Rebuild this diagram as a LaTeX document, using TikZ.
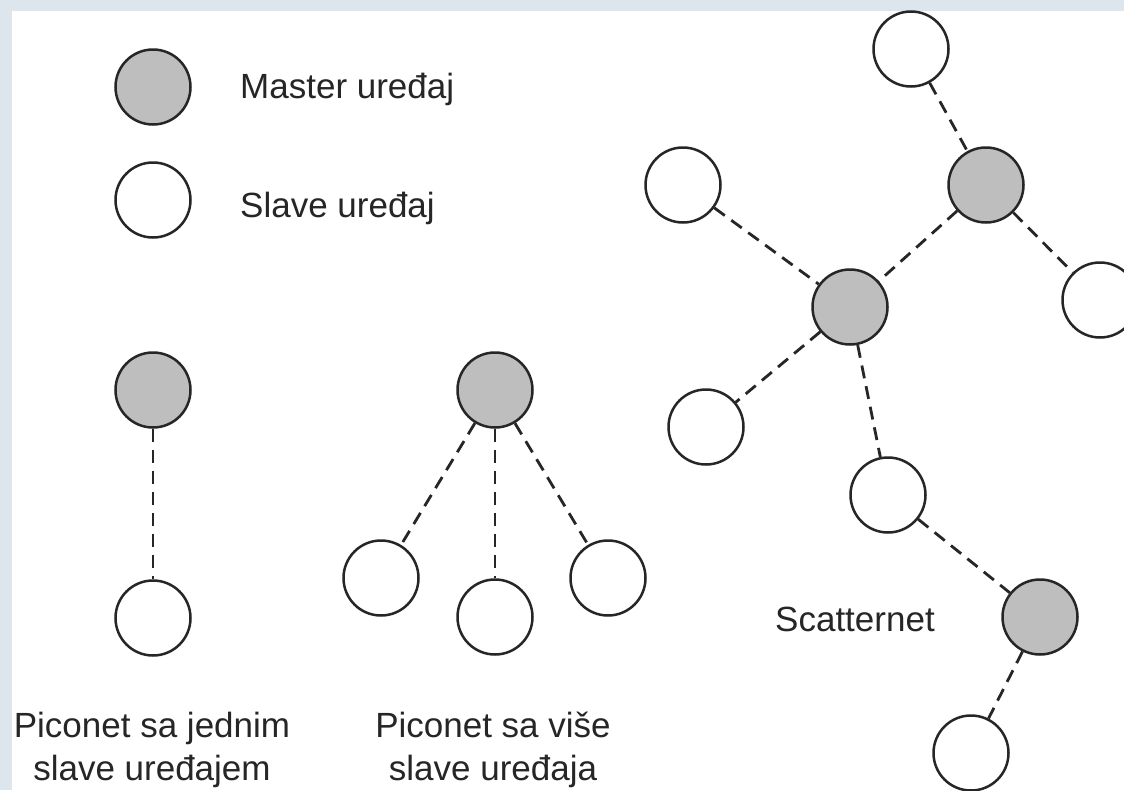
\documentclass[tikz,border=0pt]{standalone}
\usepackage{fontspec}
\setmainfont{Liberation Sans}
\definecolor{frame}{HTML}{DCE6EC}
\definecolor{masterfill}{HTML}{BEBEBE}
\definecolor{ink}{HTML}{262626}
\begin{document}
\begin{tikzpicture}[x=1pt,y=-1pt,
  dev/.style={circle,draw=ink,line width=2.5pt,minimum size=75pt,inner sep=0pt},
  master/.style={dev,fill=masterfill},
  slave/.style={dev,fill=white},
  link/.style={draw=ink,line width=2.8pt,dash pattern=on 13pt off 8pt},
  lbl/.style={text=ink,font=\fontsize{35}{43}\selectfont,inner sep=0pt}]
\useasboundingbox (0,0) rectangle (1124,790);
% frame and white sheet
\fill[frame] (0,0) rectangle (1124,790);
\fill[white] (12,11) rectangle (1124,790);

% legend
\node[master] (legm) at (153,87) {};
\node[slave]  (legs) at (153,200) {};
\node[lbl,anchor=base west] (legmt) at (240,98) {Master uređaj};
\node[lbl,anchor=base west] (legst) at (240,217) {Slave uređaj};

% piconet with one slave
\node[master] (pm1) at (153,390) {};
\node[slave]  (ps1) at (153,618) {};
\draw[link] (pm1) -- (ps1);
\node[lbl,anchor=base] (p1a) at (152,737) {Piconet sa jednim};
\node[lbl,anchor=base] (p1b) at (152,780) {slave uređajem};

% piconet with several slaves
\node[master] (pm2) at (495,390) {};
\node[slave]  (ps2a) at (381,578) {};
\node[slave]  (ps2b) at (495,617) {};
\node[slave]  (ps2c) at (608,578) {};
\draw[link] (pm2) -- (ps2a);
\draw[link] (pm2) -- (ps2b);
\draw[link] (pm2) -- (ps2c);
\node[lbl,anchor=base] (p2a) at (493,737) {Piconet sa više};
\node[lbl,anchor=base] (p2b) at (493,780) {slave uređaja};

% scatternet
\node[slave]  (st)  at (911,49) {};
\node[master] (sm1) at (986,185) {};
\node[slave]  (sr)  at (1100,300) {};
\node[slave]  (sl)  at (683,185) {};
\node[master] (sm2) at (850,307) {};
\node[slave]  (sll) at (706,427) {};
\node[slave]  (s5)  at (888,495) {};
\node[master] (sm3) at (1040,617) {};
\node[slave]  (sb)  at (971,753) {};
\draw[link] (st) -- (sm1);
\draw[link] (sm1) -- (sr);
\draw[link] (sm1) -- (sm2);
\draw[link] (sl) -- (sm2);
\draw[link] (sm2) -- (sll);
\draw[link] (sm2) -- (s5);
\draw[link] (s5) -- (sm3);
\draw[link] (sm3) -- (sb);
\node[lbl,anchor=base west] (sct) at (775,631) {Scatternet};
\end{tikzpicture}
\end{document}
